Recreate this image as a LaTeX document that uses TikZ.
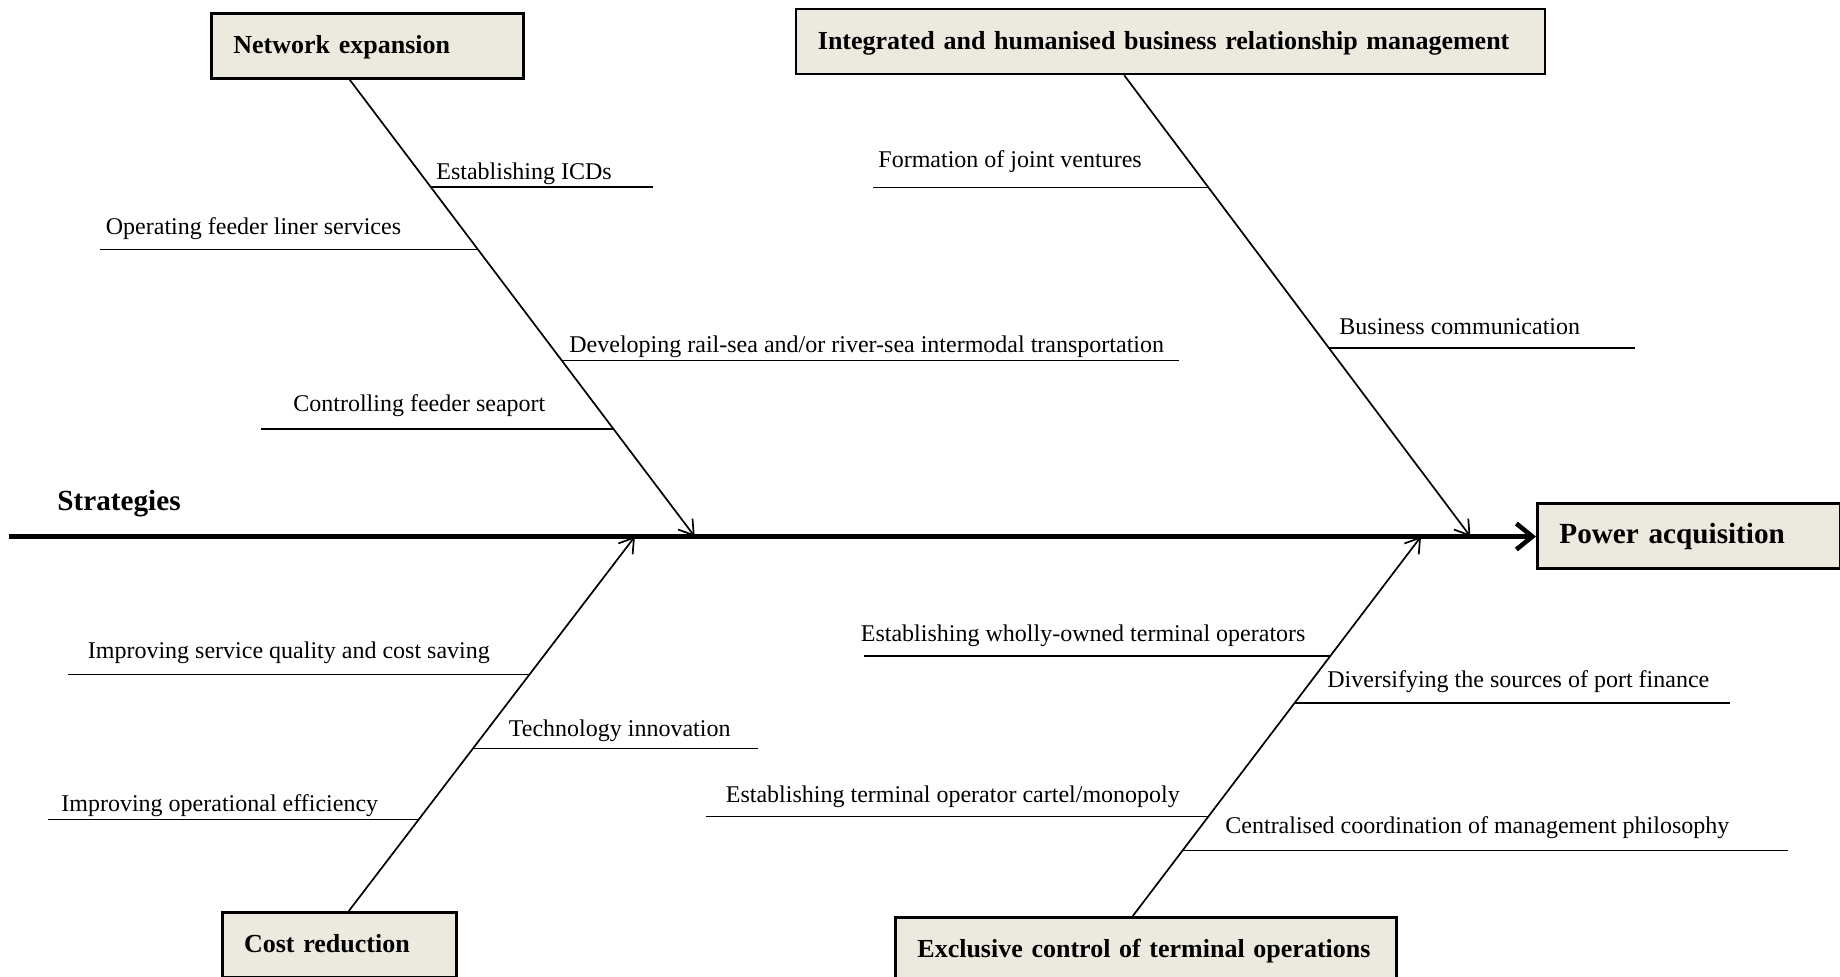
\documentclass[tikz,border=0pt]{standalone}
\usepackage{fontspec}
\setmainfont{Liberation Serif}
\usetikzlibrary{arrows.meta,calc}
\definecolor{boxfill}{RGB}{236,233,223}
\begin{document}
\begin{tikzpicture}[x=0.5pt,y=-0.5pt,
  catbox/.style={draw, line width=1.4pt, fill=boxfill, inner xsep=11pt, inner ysep=0pt,
    minimum height=32.5pt, text height=11pt, text depth=3pt, align=left, anchor=north west,
    font=\fontsize{13}{16}\selectfont\bfseries},
  bigbox/.style={catbox, font=\fontsize{14.6}{17}\selectfont\bfseries},
  cause/.style={anchor=west, inner sep=0pt, font=\fontsize{12}{14}\selectfont},
  bone/.style={line width=0.85pt, -{Straight Barb[length=7pt,width=9pt]}},
  twig/.style={line width=0.8pt},
  spine/.style={line width=2.3pt, -{Straight Barb[length=8pt,width=13pt]}},
]
\useasboundingbox (0,0) rectangle (1840,976);
\clip (0,0) rectangle (1840,976);

% category boxes (labels kept on one line)
\node[catbox, text width=134pt]   (ne) at (210,12)    {\mbox{Network expansion}};
\node[catbox, text width=352.5pt] (ih) at (794.5,7.5) {\mbox{Integrated and humanised business relationship management}};
\node[catbox, text width=95pt]    (cr) at (220.7,911) {\mbox{Cost reduction}};
\node[catbox, text width=228.5pt] (ec) at (894,916)   {\mbox{Exclusive control of terminal operations}};
\node[bigbox, text width=129.5pt] (pa) at (1536,502)  {\mbox{Power acquisition}};

% main spine
\node[anchor=west, inner sep=0pt, font=\fontsize{14.6}{17}\selectfont\bfseries] (st) at (57,503.5) {Strategies};
\coordinate (sl) at (9,536.5);
\draw[spine] (sl) -- (sl -| pa.west);

% bone end points
\coordinate (ne0) at ($(ne.south west)!0.444!(ne.south east)$);
\coordinate (ne1) at (694.7,536.5);
\coordinate (ih0) at ($(ih.south west)!0.4386!(ih.south east)$);
\coordinate (ih1) at (1470.4,536.5);
\coordinate (cr0) at ($(cr.north west)!0.541!(cr.north east)$);
\coordinate (cr1) at (634.9,536.5);
\coordinate (ec0) at ($(ec.north west)!0.474!(ec.north east)$);
\coordinate (ec1) at (1421,536.5);
\draw[bone] (ne0) -- (ne1);
\draw[bone] (ih0) -- (ih1);
\draw[bone] (cr0) -- (cr1);
\draw[bone] (ec0) -- (ec1);

% twigs on the network expansion bone
\coordinate (a1) at ($(ne0)!0.235!(ne1)$);   \coordinate (a1e) at (653,0);
\coordinate (a2) at ($(ne0)!0.372!(ne1)$);   \coordinate (a2e) at (99.5,0);
\coordinate (a3) at ($(ne0)!0.6144!(ne1)$);  \coordinate (a3e) at (1178.5,0);
\coordinate (a4) at ($(ne0)!0.7645!(ne1)$);  \coordinate (a4e) at (261,0);
\draw[twig] (a1) -- (a1 -| a1e);
\draw[twig] (a2) -- (a2 -| a2e);
\draw[twig] (a3) -- (a3 -| a3e);
\draw[twig] (a4) -- (a4 -| a4e);
\node[cause] (ta1) at (436,174)   {Establishing ICDs};
\node[cause] (ta2) at (105.5,228.5) {Operating feeder liner services};
\node[cause] (ta3) at (569,347)   {Developing rail-sea and/or river-sea intermodal transportation};
\node[cause] (ta4) at (293,405.5) {Controlling feeder seaport};

% twigs on the relationship management bone
\coordinate (b1) at ($(ih0)!0.2435!(ih1)$);  \coordinate (b1e) at (872.5,0);
\coordinate (b2) at ($(ih0)!0.5916!(ih1)$);  \coordinate (b2e) at (1634.5,0);
\draw[twig] (b1) -- (b1 -| b1e);
\draw[twig] (b2) -- (b2 -| b2e);
\node[cause] (tb1) at (878,161.5)  {Formation of joint ventures};
\node[cause] (tb2) at (1339,327)   {Business communication};

% twigs on the cost reduction bone
\coordinate (c1) at ($(cr0)!0.6315!(cr1)$);  \coordinate (c1e) at (67.5,0);
\coordinate (c2) at ($(cr0)!0.4339!(cr1)$);  \coordinate (c2e) at (757.5,0);
\coordinate (c3) at ($(cr0)!0.2443!(cr1)$);  \coordinate (c3e) at (48,0);
\draw[twig] (c1) -- (c1 -| c1e);
\draw[twig] (c2) -- (c2 -| c2e);
\draw[twig] (c3) -- (c3 -| c3e);
\node[cause] (tc1) at (87.5,652.5) {Improving service quality and cost saving};
\node[cause] (tc2) at (508.5,731)  {Technology innovation};
\node[cause] (tc3) at (61,805.5)   {Improving operational efficiency};

% twigs on the terminal operations bone
\coordinate (d1) at ($(ec0)!0.6851!(ec1)$);  \coordinate (d1e) at (863.5,0);
\coordinate (d2) at ($(ec0)!0.5613!(ec1)$);  \coordinate (d2e) at (1730,0);
\coordinate (d3) at ($(ec0)!0.2622!(ec1)$);  \coordinate (d3e) at (706,0);
\coordinate (d4) at ($(ec0)!0.1726!(ec1)$);  \coordinate (d4e) at (1787.5,0);
\draw[twig] (d1) -- (d1 -| d1e);
\draw[twig] (d2) -- (d2 -| d2e);
\draw[twig] (d3) -- (d3 -| d3e);
\draw[twig] (d4) -- (d4 -| d4e);
\node[cause] (td1) at (860.5,635.5) {Establishing wholly-owned terminal operators};
\node[cause] (td2) at (1327,681.5)  {Diversifying the sources of port finance};
\node[cause] (td3) at (725.5,796.5) {Establishing terminal operator cartel/monopoly};
\node[cause] (td4) at (1225,828)    {Centralised coordination of management philosophy};
\end{tikzpicture}
\end{document}
